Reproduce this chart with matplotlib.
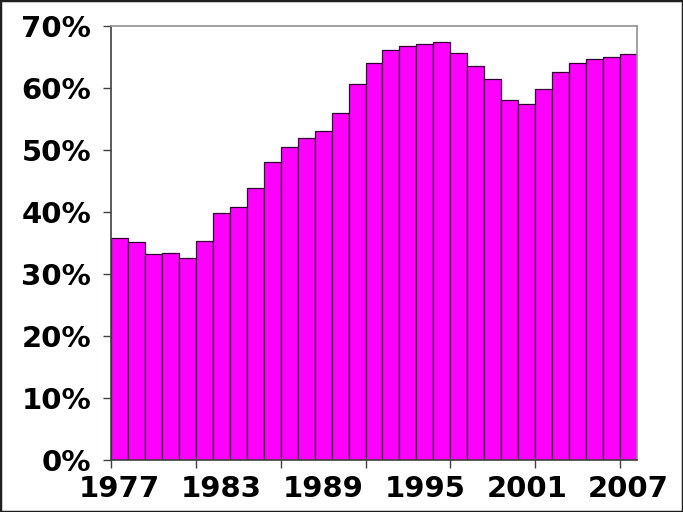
import matplotlib
matplotlib.use("Agg")
import matplotlib.pyplot as plt
from matplotlib.patches import Rectangle
from matplotlib.ticker import FixedLocator, FuncFormatter
import numpy as np

years = list(range(1977, 2008))
values = [35.8, 35.1, 33.2, 33.4, 32.6, 35.3, 39.9, 40.8, 43.9, 48.1,
          50.5, 52.0, 53.1, 55.9, 60.6, 64.1, 66.2, 66.7, 67.1, 67.4,
          65.6, 63.5, 61.5, 58.0, 57.4, 59.8, 62.6, 64.0, 64.6, 65.0, 65.5]
label_years = [1977, 1983, 1989, 1995, 2001, 2007]
y_ticks = [0, 10, 20, 30, 40, 50, 60, 70]

plt.rcParams['font.family'] = ['DejaVu Sans']
plt.rcParams['font.weight'] = 'bold'

fig = plt.figure(figsize=(6.83, 5.12), dpi=100)
fig.patch.set_facecolor('white')
ax = fig.add_axes([111/683, 1-460/512, (637-111)/683, (460-26)/512])

x = np.arange(len(years))
ax.bar(x, values, width=1.0, color='#FF00FF', edgecolor='#300030', linewidth=0.9)

ax.set_xlim(-0.5, len(years) - 0.5)
ax.set_ylim(0, 70)

# y axis
ax.set_yticks(y_ticks)
ax.yaxis.set_major_formatter(FuncFormatter(lambda v, p: f"{int(v)}%"))
ax.tick_params(axis='y', direction='out', length=5.8, width=1, color='#404040',
               pad=8.5, labelsize=21)

# x axis: tick marks at bar edges every 5 bars, labels at bar centers every 6
ax.xaxis.set_major_locator(FixedLocator(np.arange(-0.5, len(years), 5)))
ax.xaxis.set_major_formatter(FuncFormatter(lambda v, p: ""))
ax.xaxis.set_minor_locator(FixedLocator([years.index(y) for y in label_years]))
ax.xaxis.set_minor_formatter(FuncFormatter(lambda v, p: str(years[int(round(v))])))
ax.tick_params(axis='x', which='major', direction='out', length=5.8, width=1, color='#404040')
ax.tick_params(axis='x', which='minor', length=0, pad=10.5, labelsize=21)

for lab in ax.get_xticklabels(minor=True) + ax.get_yticklabels():
    lab.set_fontweight('bold')

ax.spines['left'].set_color('#404040')
ax.spines['bottom'].set_color('#404040')
ax.spines['top'].set_color('#909090')
ax.spines['right'].set_color('#909090')
for s in ax.spines.values():
    s.set_linewidth(1.2)

fig.patches.append(Rectangle((0, 0), 1, 1, transform=fig.transFigure,
                             fill=False, edgecolor='#202020', linewidth=2.5))

fig.savefig('out.png', dpi=100)
